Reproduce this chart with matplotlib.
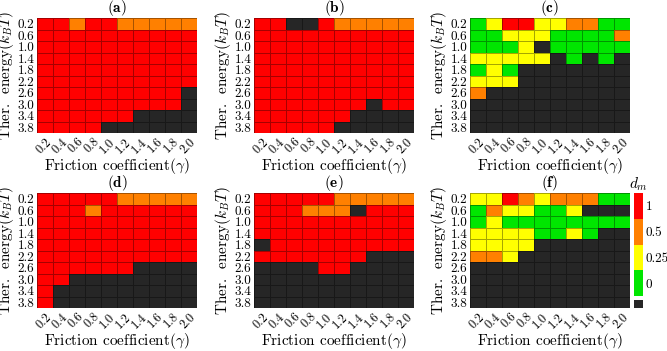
import matplotlib
matplotlib.use("Agg")
import matplotlib.pyplot as plt
import numpy as np
from matplotlib.colors import ListedColormap, BoundaryNorm

plt.rcParams.update({
    'font.family': 'serif',
    'font.serif': ['cmr10', 'DejaVu Serif'],
    'mathtext.fontset': 'cm',
    'axes.formatter.use_mathtext': True,
})

# friction (x) and thermal energy (y) grid values
gammas = ['0.2', '0.4', '0.6', '0.8', '1.0', '1.2', '1.4', '1.6', '1.8', '2.0']
energies = ['0.2', '0.6', '1.0', '1.4', '1.8', '2.2', '2.6', '3.0', '3.4', '3.8']

# cell states per panel, rows = energies (top to bottom), cols = gammas
# K: no data, G: 0, Y: 0.25, O: 0.5, R: 1
panel_a = ["RRORROOOOO", "RRRRRRRRRR", "RRRRRRRRRR", "RRRRRRRRRR", "RRRRRRRRRR",
           "RRRRRRRRRR", "RRRRRRRRRK", "RRRRRRRRRK", "RRRRRRKKKK", "RRRRKKKKKK"]
panel_b = ["RRKKROOOOO", "RRRRRRRRRR", "RRRRRRRRRR", "RRRRRRRRRR", "RRRRRRRRRR",
           "RRRRRRRRRR", "RRRRRRRRRR", "RRRRRRRKRR", "RRRRRRKKKK", "RRRRRKKKKK"]
panel_c = ["GYRRYYOOGG", "GGYYYGGGGO", "GGGYKGGGGG", "YYYYYKGKGK", "GYGKKKKKKK",
           "YYYKKKKKKK", "OKKKKKKKKK", "KKKKKKKKKK", "KKKKKKKKKK", "KKKKKKKKKK"]
panel_d = ["RRRRROOOOO", "RRRORRRRRR", "RRRRRRRRRR", "RRRRRRRRRR", "RRRRRRRRRR",
           "RRRRRRRRRR", "RRRRRRKKKK", "RRKKKKKKKK", "RKKKKKKKKK", "RKKKKKKKKK"]
panel_e = ["RRRRROOOOO", "RRROOOKRRR", "RRRRRRRRRR", "RRRRRRRRRR", "KRRRRRRRRR",
           "RRRRRRRKKK", "KKKKRRKKKK", "KKKKKKKKKK", "KKKKKKKKKK", "KKKKKKKKKK"]
panel_f = ["YYROYOOOGG", "GOYYGGYKKK", "GYGGGGGGGG", "YYYYGGYGKK", "YYYYKKKKKK",
           "OOYKKKKKKK", "KKKKKKKKKK", "KKKKKKKKKK", "KKKKKKKKKK", "KKKKKKKKKK"]

panels = [('a', panel_a), ('b', panel_b), ('c', panel_c),
          ('d', panel_d), ('e', panel_e), ('f', panel_f)]

state_order = 'KGYOR'
state_colors = ['#262626', '#00e600', '#ffff00', '#ff8000', '#ff0000']
cbar_labels = ['0', '0.25', '0.5', '1']

cmap = ListedColormap(state_colors)
norm = BoundaryNorm(np.arange(-0.5, 5.5, 1), cmap.N)

W, H = 667, 351
fig = plt.figure(figsize=(W / 100, H / 100), dpi=100)

lefts = [37, 254, 470]
tops = [18, 193]
aw, ah = 160, 115

for i, (name, rows) in enumerate(panels):
    r, c = divmod(i, 3)
    ax = fig.add_axes([lefts[c] / W, 1 - (tops[r] + ah) / H, aw / W, ah / H])
    z = np.array([[state_order.index(ch) for ch in row] for row in rows])
    ax.pcolormesh(np.arange(11), np.arange(11), z, cmap=cmap, norm=norm,
                  edgecolors=(0, 0, 0, 0.35), linewidth=0.6)
    ax.set_xlim(0, 10)
    ax.set_ylim(10, 0)
    ax.set_xticks(np.arange(10) + 0.5)
    ax.set_xticklabels(gammas, rotation=45, ha='right', rotation_mode='anchor',
                       fontsize=9)
    ax.set_yticks(np.arange(10) + 0.5)
    ax.set_yticklabels(energies, fontsize=9.5)
    ax.tick_params(axis='x', length=0, pad=2)
    ax.tick_params(axis='y', length=0, pad=2)
    for s in ax.spines.values():
        s.set_visible(False)
    ax.set_title(r'$(\mathbf{%s})$' % name, fontsize=11, pad=1)
    ax.set_xlabel(r'Friction coefficient($\gamma$)', fontsize=11, labelpad=0)
    ax.set_ylabel(r'Ther.  energy($k_BT$)', fontsize=11, labelpad=1)

# discrete colour bar
cax = fig.add_axes([634 / W, 1 - 296 / H, 9 / W, 103 / H])
cax.pcolormesh([0, 1], np.arange(5), np.arange(1, 5).reshape(4, 1),
               cmap=cmap, norm=norm)
cax.set_xlim(0, 1)
cax.set_ylim(0, 4)
cax.set_xticks([])
cax.yaxis.tick_right()
cax.set_yticks(np.arange(4) + 0.5)
cax.set_yticklabels(cbar_labels, fontsize=9.5)
cax.tick_params(length=0, pad=2)
for s in cax.spines.values():
    s.set_visible(False)
cax.set_title(r'$d_m$', fontsize=11, pad=3)

kax = fig.add_axes([634 / W, 1 - 308 / H, 9 / W, 8 / H])
kax.pcolormesh([0, 1], [0, 1], np.zeros((1, 1)), cmap=cmap, norm=norm)
kax.set_axis_off()

fig.savefig('out.png', dpi=100)
